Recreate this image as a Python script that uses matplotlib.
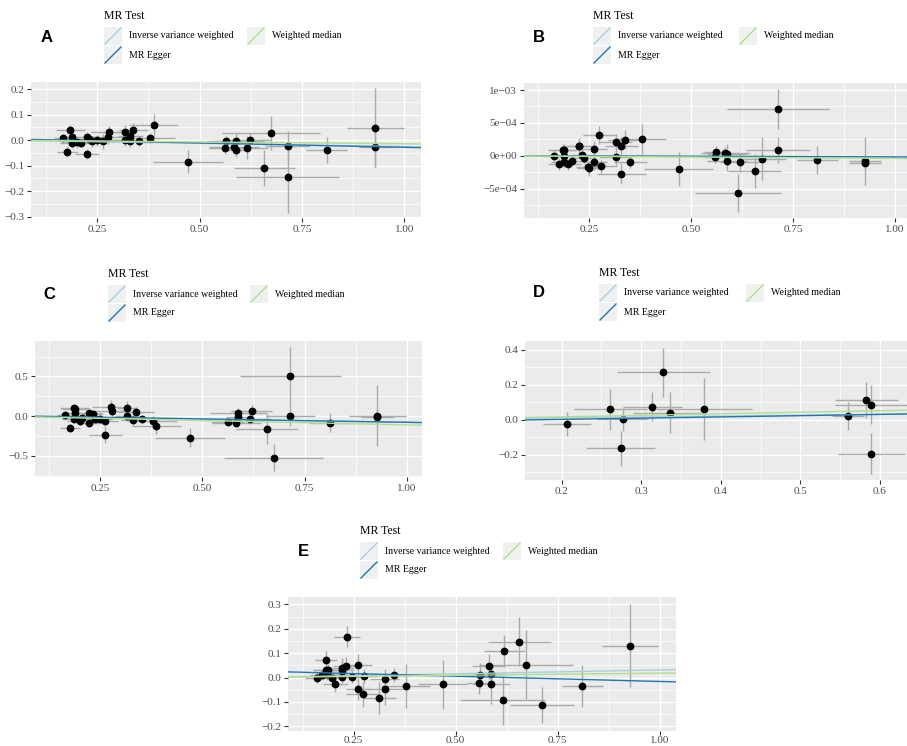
import matplotlib.pyplot as plt
from matplotlib.lines import Line2D
from matplotlib.patches import Rectangle

W, H = 907, 746

# ---- data ----
# panel A
a_x = [0.165, 0.177, 0.184, 0.188, 0.188, 0.201, 0.209, 0.225, 0.225, 0.230, 0.237, 0.250, 0.264,
       0.276, 0.279, 0.317, 0.317, 0.331, 0.331, 0.338, 0.353, 0.380, 0.388, 0.472, 0.562, 0.564,
       0.584, 0.588, 0.589, 0.617, 0.622, 0.658, 0.675, 0.715, 0.715, 0.811, 0.929, 0.929]
a_y = [0.008, -0.045, 0.038, 0.011, -0.012, -0.009, -0.012, 0.011, -0.055, 0.004, -0.005, -0.001, -0.005,
       0.011, 0.033, 0.034, 0.001, 0.017, -0.005, 0.041, -0.003, 0.008, 0.059, -0.085, -0.029, -0.005,
       -0.026, -0.003, -0.037, -0.029, 0.000, -0.110, 0.029, -0.024, -0.145, -0.039, 0.049, -0.026]
a_xe = [0.020, 0.025, 0.035, 0.030, 0.030, 0.030, 0.030, 0.030, 0.030, 0.025, 0.030, 0.030, 0.030,
        0.040, 0.045, 0.025, 0.030, 0.030, 0.045, 0.035, 0.040, 0.060, 0.060, 0.085, 0.040, 0.030,
        0.060, 0.070, 0.030, 0.050, 0.050, 0.075, 0.120, 0.055, 0.125, 0.050, 0.070, 0.040]
a_ye = [0.015, 0.020, 0.020, 0.020, 0.020, 0.020, 0.015, 0.020, 0.020, 0.020, 0.020, 0.020, 0.030,
        0.025, 0.022, 0.025, 0.025, 0.030, 0.020, 0.025, 0.020, 0.020, 0.045, 0.045, 0.025, 0.020,
        0.030, 0.030, 0.030, 0.045, 0.030, 0.070, 0.067, 0.060, 0.140, 0.050, 0.155, 0.080]

# panel B (outcome effects x 1e-4)
b_x = [0.164, 0.175, 0.185, 0.187, 0.187, 0.187, 0.199, 0.207, 0.224, 0.226, 0.233, 0.237, 0.248,
       0.249, 0.263, 0.263, 0.275, 0.278, 0.315, 0.315, 0.329, 0.329, 0.337, 0.351, 0.379, 0.470,
       0.559, 0.562, 0.584, 0.588, 0.588, 0.620, 0.615, 0.656, 0.673, 0.714, 0.714, 0.810, 0.927, 0.927]
b_y = [0.00, -1.22, 0.82, 0.87, -0.10, -0.92, -1.33, -0.82, 1.53, 1.45, 0.15, -0.31, -1.73,
       -1.94, 1.02, -0.97, 3.11, -1.63, 2.09, -0.20, 1.48, -2.76, 2.45, -0.97, 2.50, -2.04,
       -0.20, 0.61, 0.46, 0.26, -0.77, -1.02, -5.66, -2.35, -0.46, 7.14, 0.92, -0.61, -0.82, -1.07]
b_xe = [0.030, 0.025, 0.035, 0.030, 0.030, 0.030, 0.030, 0.030, 0.040, 0.030, 0.030, 0.030, 0.030,
        0.030, 0.030, 0.030, 0.040, 0.040, 0.040, 0.040, 0.040, 0.060, 0.040, 0.040, 0.060, 0.085,
        0.030, 0.030, 0.060, 0.050, 0.050, 0.050, 0.105, 0.065, 0.060, 0.125, 0.078, 0.050, 0.040, 0.040]
b_ye = [0.9, 0.9, 0.9, 0.9, 0.9, 0.9, 0.9, 0.8, 1.1, 1.0, 0.9, 0.9, 0.9,
        1.2, 1.2, 1.2, 1.4, 1.0, 1.2, 1.2, 1.4, 1.6, 1.5, 0.9, 2.4, 2.6,
        0.9, 0.9, 0.9, 1.6, 1.6, 1.5, 2.9, 2.6, 3.3, 3.0, 2.0, 2.1, 3.7, 1.0]

# panel C
c_x = [0.165, 0.176, 0.187, 0.188, 0.187, 0.189, 0.200, 0.207, 0.224, 0.224, 0.232, 0.238, 0.249,
       0.263, 0.263, 0.276, 0.279, 0.316, 0.316, 0.330, 0.338, 0.352, 0.379, 0.387, 0.470, 0.562,
       0.583, 0.588, 0.588, 0.617, 0.621, 0.658, 0.674, 0.715, 0.715, 0.811, 0.928, 0.928]
c_y = [0.013, -0.153, 0.097, 0.085, -0.042, 0.042, -0.064, -0.025, 0.034, -0.080, 0.025, -0.038, -0.038,
       -0.059, -0.242, 0.119, 0.068, 0.106, 0.004, -0.047, 0.047, -0.042, -0.055, -0.123, -0.271, -0.072,
       -0.081, 0.034, -0.008, -0.034, 0.059, -0.157, -0.521, 0.504, 0.004, -0.085, 0.008, -0.008]
c_xe = [0.020, 0.025, 0.035, 0.030, 0.030, 0.030, 0.030, 0.030, 0.030, 0.030, 0.025, 0.030, 0.030,
        0.030, 0.040, 0.045, 0.045, 0.025, 0.030, 0.030, 0.045, 0.040, 0.060, 0.060, 0.085, 0.040,
        0.060, 0.070, 0.030, 0.050, 0.050, 0.075, 0.120, 0.124, 0.060, 0.050, 0.070, 0.040]
c_ye = [0.05, 0.05, 0.06, 0.05, 0.05, 0.05, 0.05, 0.05, 0.06, 0.06, 0.05, 0.05, 0.05,
        0.06, 0.10, 0.08, 0.06, 0.08, 0.06, 0.06, 0.07, 0.05, 0.06, 0.10, 0.12, 0.05,
        0.06, 0.07, 0.06, 0.07, 0.08, 0.19, 0.17, 0.37, 0.13, 0.12, 0.39, 0.10]

# panel D
d_x = [0.207, 0.261, 0.277, 0.274, 0.314, 0.328, 0.336, 0.379, 0.560, 0.583, 0.589, 0.589]
d_y = [-0.023, 0.061, 0.004, -0.162, 0.076, 0.272, 0.042, 0.061, 0.023, 0.114, 0.088, -0.192]
d_xe = [0.030, 0.046, 0.032, 0.043, 0.037, 0.058, 0.046, 0.060, 0.020, 0.040, 0.045, 0.042]
d_ye = [0.070, 0.116, 0.065, 0.100, 0.084, 0.139, 0.116, 0.176, 0.080, 0.100, 0.112, 0.116]

# panel E
e_x = [0.160, 0.172, 0.181, 0.183, 0.186, 0.185, 0.197, 0.205, 0.221, 0.221, 0.221, 0.230, 0.234,
       0.246, 0.260, 0.260, 0.272, 0.276, 0.313, 0.326, 0.326, 0.349, 0.377, 0.468, 0.558, 0.560,
       0.581, 0.587, 0.587, 0.615, 0.619, 0.656, 0.672, 0.712, 0.810, 0.927]
e_y = [-0.001, 0.009, 0.030, 0.073, 0.030, 0.016, 0.000, -0.026, 0.003, 0.032, 0.041, 0.046, 0.168,
       0.003, 0.053, -0.047, -0.069, 0.007, -0.085, -0.008, -0.046, 0.011, -0.035, -0.028, -0.023, 0.009,
       0.046, 0.016, -0.028, -0.093, 0.109, 0.147, 0.053, -0.112, -0.034, 0.131]
e_xe = [0.030, 0.030, 0.030, 0.027, 0.030, 0.030, 0.030, 0.030, 0.030, 0.030, 0.030, 0.030, 0.032,
        0.030, 0.035, 0.030, 0.040, 0.030, 0.040, 0.035, 0.045, 0.030, 0.060, 0.060, 0.030, 0.040,
        0.040, 0.040, 0.045, 0.104, 0.050, 0.078, 0.116, 0.078, 0.050, 0.069]
e_ye = [0.020, 0.020, 0.020, 0.036, 0.025, 0.025, 0.020, 0.035, 0.025, 0.040, 0.040, 0.040, 0.042,
        0.025, 0.045, 0.045, 0.050, 0.030, 0.065, 0.045, 0.065, 0.030, 0.090, 0.100, 0.045, 0.050,
        0.050, 0.040, 0.080, 0.100, 0.065, 0.100, 0.140, 0.075, 0.085, 0.170]

# fitted lines: (intercept, slope) for IVW, MR Egger, weighted median
a_lines = [(0.0, -0.025), (0.006, -0.034), (0.0, -0.014)]
b_lines = [(0.0, -0.2), (0.02, -0.2), (0.0, -0.4)]
c_lines = [(0.0, -0.078), (0.0076, -0.085), (0.0, -0.11)]
d_lines = [(0.0, 0.055), (-0.011, 0.071), (0.0, 0.088)]
e_lines = [(0.0, 0.031), (0.027, -0.043), (0.0, 0.018)]

method_names = ['Inverse variance weighted', 'MR Egger', 'Weighted median']
method_colors = ['#A6CEE3', '#1F78B4', '#B2DF8A']

plt.rcParams['font.family'] = ['Liberation Serif', 'DejaVu Serif']

fig = plt.figure(figsize=(W / 100, H / 100), dpi=100)


def fx(px):
    return px / W


def fy(py):
    return 1 - py / H


def make_axes(left, top, right, bottom):
    return fig.add_axes([fx(left), fy(bottom), (right - left) / W, (bottom - top) / H])


def panel(ax, x, y, xe, ye, lines, xlim, ylim, xt, xtl, yt, ytl, xminor, yminor, xpad=2):
    ax.set_facecolor('#EBEBEB')
    for s in ax.spines.values():
        s.set_visible(False)
    ax.set_xlim(*xlim)
    ax.set_ylim(*ylim)
    ax.set_xticks(xt)
    ax.set_xticklabels(xtl)
    ax.set_yticks(yt)
    ax.set_yticklabels(ytl)
    ax.set_xticks(xminor, minor=True)
    ax.set_yticks(yminor, minor=True)
    ax.grid(which='major', color='white', linewidth=1.0)
    ax.grid(which='minor', color='white', linewidth=0.5)
    ax.set_axisbelow(True)
    ax.tick_params(which='major', length=3, width=0.8, color='#333333',
                   labelsize=8, labelcolor='#4D4D4D', pad=2)
    ax.tick_params(axis='x', which='major', pad=xpad)
    ax.tick_params(which='minor', length=0)
    ax.errorbar(x, y, yerr=ye, fmt='none', ecolor='#ABABAB', elinewidth=1.0, zorder=2)
    ax.errorbar(x, y, xerr=xe, fmt='none', ecolor='#ABABAB', elinewidth=1.0, zorder=2)
    ax.plot(x, y, 'o', color='black', markersize=4.6, zorder=3, linestyle='none')
    for (b0, b1), col in zip(lines, method_colors):
        ax.axline((0, b0), slope=b1, color=col, linewidth=1.0, zorder=4)


def legend(px, py, dx3):
    fig.text(fx(px), fy(py), 'MR Test', fontsize=8.5, va='center', ha='left')
    pos = [(px, py + 11, px + 25), (px, py + 30, px + 25), (px + dx3, py + 11, px + dx3 + 25)]
    for (kx, ky, tx), name, col in zip(pos, method_names, method_colors):
        fig.patches.append(Rectangle((fx(kx), fy(ky + 18)), 18 / W, 18 / H,
                                     transform=fig.transFigure, facecolor='#F0F0F0',
                                     edgecolor='none'))
        fig.lines.append(Line2D([fx(kx + 1), fx(kx + 17)], [fy(ky + 17), fy(ky + 1)],
                                transform=fig.transFigure, color=col, linewidth=1.0))
        fig.text(fx(tx), fy(ky + 9), name, fontsize=7.1, va='center', ha='left')


def letter(px, py, s):
    fig.text(fx(px), fy(py), s, fontsize=12, fontweight='bold', va='center', ha='center',
             family='Liberation Sans')


x_ticks = [0.25, 0.50, 0.75, 1.00]
x_labels = ['0.25', '0.50', '0.75', '1.00']
x_minor = [0.125, 0.375, 0.625, 0.875]

# A
ax = make_axes(31, 82, 421, 218)
panel(ax, a_x, a_y, a_xe, a_ye, a_lines, (0.088, 1.041), (-0.305, 0.228),
      x_ticks, x_labels,
      [-0.3, -0.2, -0.1, 0.0, 0.1, 0.2], ['\u22120.3', '\u22120.2', '\u22120.1', '0.0', '0.1', '0.2'],
      x_minor, [-0.25, -0.15, -0.05, 0.05, 0.15])
legend(104, 16, 143)
letter(47, 38, 'A')

# B (values in units of 1e-4)
ax = make_axes(524, 83, 907, 218)
panel(ax, b_x, b_y, b_xe, b_ye, b_lines, (0.09, 1.03), (-9.48, 11.07),
      x_ticks, x_labels,
      [-5, 0, 5, 10], ['\u22125e\u221204', '0e+00', '5e\u221204', '1e\u221203'],
      x_minor, [-7.5, -2.5, 2.5, 7.5])
legend(593, 16, 146)
letter(539, 37, 'B')

# C
ax = make_axes(35, 341, 422, 477)
panel(ax, c_x, c_y, c_xe, c_ye, c_lines, (0.091, 1.037), (-0.766, 0.946),
      x_ticks, x_labels,
      [-0.5, 0.0, 0.5], ['\u22120.5', '0.0', '0.5'],
      x_minor, [-0.75, -0.25, 0.25, 0.75])
legend(108, 274, 142)
letter(49, 295, 'C')

# D
ax = make_axes(525, 341, 907, 480)
panel(ax, d_x, d_y, d_xe, d_ye, d_lines, (0.154, 0.634), (-0.343, 0.451),
      [0.2, 0.3, 0.4, 0.5, 0.6], ['0.2', '0.3', '0.4', '0.5', '0.6'],
      [-0.2, 0.0, 0.2, 0.4], ['\u22120.2', '0.0', '0.2', '0.4'],
      [0.25, 0.35, 0.45, 0.55], [-0.3, -0.1, 0.1, 0.3])
legend(599, 273, 147)
letter(539, 293, 'D')

# E
ax = make_axes(288, 597, 676, 731)
panel(ax, e_x, e_y, e_xe, e_ye, e_lines, (0.089, 1.04), (-0.219, 0.33),
      x_ticks, x_labels,
      [-0.2, -0.1, 0.0, 0.1, 0.2, 0.3], ['\u22120.2', '\u22120.1', '0.0', '0.1', '0.2', '0.3'],
      x_minor, [-0.15, -0.05, 0.05, 0.15, 0.25], xpad=0.5)
legend(360, 531, 143)
letter(303, 552, 'E')

fig.savefig('out.png', dpi=100)
